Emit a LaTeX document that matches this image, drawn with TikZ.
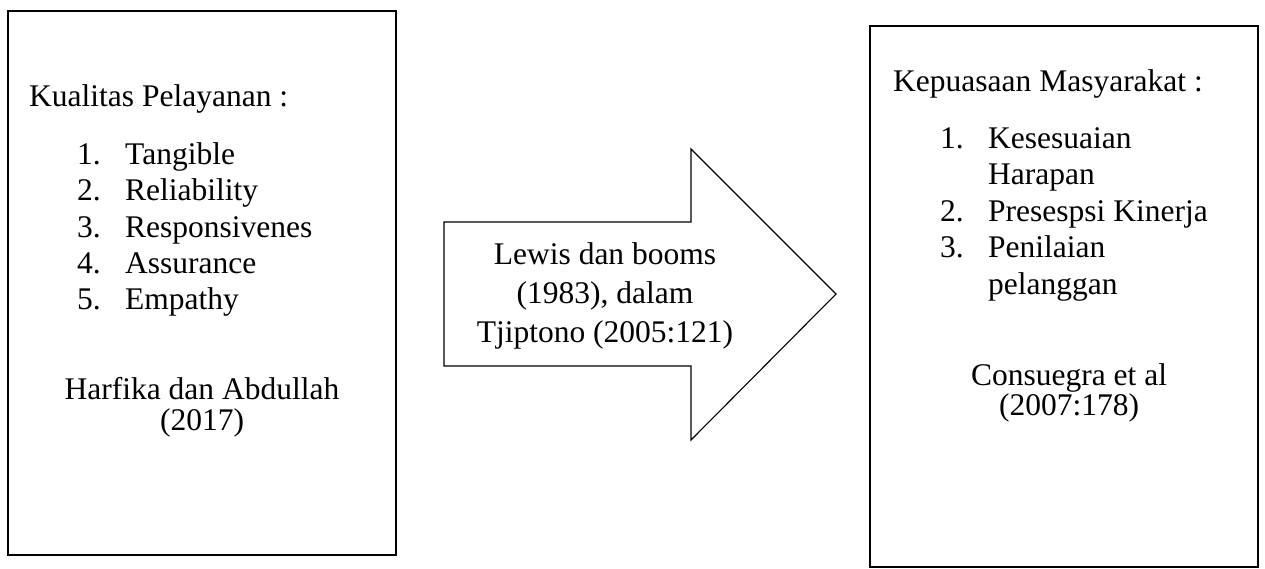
\documentclass[tikz,border=0pt]{standalone}
\usepackage{fontspec}
\setmainfont{Liberation Serif}
\begin{document}
\begin{tikzpicture}[x=1pt,y=-1pt,
  frame/.style={draw=black,line width=1.3pt},
  txt/.style={inner sep=0pt,anchor=base west,font=\fontsize{31.5}{36}\selectfont},
  ctxt/.style={inner sep=0pt,anchor=base,font=\fontsize{31.5}{36}\selectfont}]
\useasboundingbox (0,0) rectangle (1265,568);
% left box
\draw[frame] (8,11) rectangle (396,555);
\node[txt] (kp) at (29,106) {Kualitas Pelayanan :};
\node[txt] (n1) at (77,164) {1.};
\node[txt] (t1) at (125,164) {Tangible};
\node[txt] (n2) at (77,200) {2.};
\node[txt] (t2) at (125,200) {Reliability};
\node[txt] (n3) at (77,237) {3.};
\node[txt] (t3) at (125,237) {Responsivenes};
\node[txt] (n4) at (77,273) {4.};
\node[txt] (t4) at (125,273) {Assurance};
\node[txt] (n5) at (77,309) {5.};
\node[txt] (t5) at (125,309) {Empathy};
\node[ctxt] (h1) at (202,399) {Harfika dan Abdullah};
\node[ctxt] (h2) at (202,430) {(2017)};
% arrow
\draw[line width=1.1pt,line join=miter] (444,222) -- (691,222) -- (691,149) -- (836,294) -- (691,440) -- (691,366) -- (444,366) -- cycle;
\node[ctxt] (a1) at (605,264) {Lewis dan booms};
\node[ctxt] (a2) at (605,303) {(1983), dalam};
\node[ctxt] (a3) at (605,342) {Tjiptono (2005:121)};
% right box
\draw[frame] (870,26) rectangle (1258,567);
\node[txt] (km) at (893,91) {Kepuasaan Masyarakat :};
\node[txt] (m1) at (940,148) {1.};
\node[txt] (r1) at (988,148) {Kesesuaian};
\node[txt] (r1b) at (988,184) {Harapan};
\node[txt] (m2) at (940,221) {2.};
\node[txt] (r2) at (988,221) {Presespsi Kinerja};
\node[txt] (m3) at (940,257) {3.};
\node[txt] (r3) at (988,257) {Penilaian};
\node[txt] (r3b) at (988,294) {pelanggan};
\node[ctxt] (c1) at (1069,385) {Consuegra et al};
\node[ctxt] (c2) at (1069,415) {(2007:178)};
\end{tikzpicture}
\end{document}
